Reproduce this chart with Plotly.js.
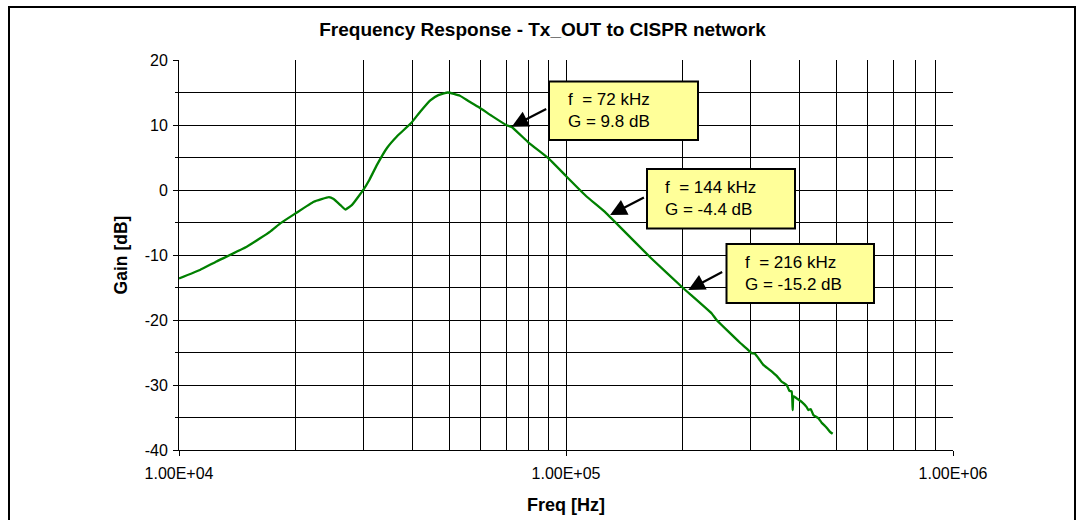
<!DOCTYPE html>
<html>
<head>
<meta charset="utf-8">
<script src="https://cdn.plot.ly/plotly-3.0.1.min.js"></script>
<style>html,body{margin:0;padding:0;background:#fff;}#chart{width:1082px;height:520px;}</style>
</head>
<body>
<div id="chart"></div>
<script>
// ---- data ----
const freqHz = [1.00e4, 1.133e4, 1.25e4, 1.5e4, 1.72e4, 1.83e4, 2.0e4, 2.23e4, 2.44e4, 2.51e4, 2.61e4, 2.69e4, 2.80e4,
  3.0e4, 3.1e4, 3.25e4, 3.45e4, 3.65e4, 3.98e4, 4.2e4, 4.46e4, 4.68e4, 4.95e4, 5.32e4, 5.59e4, 5.93e4, 6.43e4, 7.0e4, 7.24e4,
  8.0e4, 9.0e4, 1.0e5, 1.13e5, 1.256e5, 1.374e5, 1.66e5, 2.0e5, 2.38e5, 2.45e5, 2.816e5, 2.93e5, 3.018e5, 3.078e5,
  3.171e5, 3.235e5, 3.367e5, 3.503e5, 3.609e5, 3.718e5, 3.777e5, 3.830e5, 3.853e5, 3.868e5, 3.945e5, 4.064e5, 4.187e5,
  4.229e5, 4.288e5, 4.356e5, 4.487e5, 4.577e5, 4.669e5, 4.734e5, 4.810e5, 4.887e5];
const gainDb = [-13.6, -12.3, -11.0, -8.7, -6.4, -5.1, -3.6, -1.8, -1.1, -1.4, -2.3, -3.0, -2.3,
  0.1, 1.5, 3.9, 6.5, 8.2, 10.3, 12.05, 13.8, 14.6, 15.0, 14.5, 13.7, 12.8, 11.4, 10.0, 9.7,
  7.3, 4.9, 2.15, -1.0, -3.3, -5.6, -10.5, -15.0, -19.0, -20.0, -23.5, -24.4, -25.1, -25.2,
  -26.2, -26.9, -27.7, -28.6, -29.5, -30.0, -30.9, -31.0, -33.85, -31.7, -32.05, -32.6, -33.4,
  -33.85, -33.7, -34.6, -35.1, -35.8, -36.3, -36.7, -37.2, -37.5];

const xTickVals = [1e4, 1e5, 1e6];
const xTickText = ['1.00E+04', '1.00E+05', '1.00E+06'];
const xMinorVals = [2e4, 3e4, 4e4, 5e4, 6e4, 7e4, 8e4, 9e4, 2e5, 3e5, 4e5, 5e5, 6e5, 7e5, 8e5, 9e5];
const yTickVals = [-40, -30, -20, -10, 0, 10, 20];
const yTickText = ['-40', '-30', '-20', '-10', '0', '10', '20'];

// callouts: frequency label, gain label, and the curve point the arrow touches
const calloutF = ['72 kHz', '144 kHz', '216 kHz'];
const calloutG = ['9.8 dB', '-4.4 dB', '-15.2 dB'];
const calloutTipHz = [7.24e4, 1.30e5, 2.07e5];
const calloutTipDb = [9.74, -3.85, -15.38];

// ---- layout helpers (pixel -> paper) ----
const L = 179, R = 953, T = 60, B = 450;
const px = x => (x - L) / (R - L);
const py = y => (B - y) / (B - T);
const FONT = 'Liberation Sans, Arial, sans-serif';

// callout box geometry in pixels: [left, top, right, bottom, textLeft]
const boxes = [
  [549, 81.5, 698, 140, 565.7],
  [647, 169, 795, 228.5, 662.7],
  [726.5, 244, 874, 303, 742.7]
];
const arrowOff = [[36, -18.4], [35.3, -18.3], [35.4, -18.7]];

const shapes = [{
  type: 'rect', xref: 'paper', yref: 'paper',
  x0: px(9), x1: px(1075), y0: py(540), y1: py(7),
  line: {color: '#000', width: 2}, fillcolor: 'rgba(0,0,0,0)', layer: 'below'
}];
const annotations = [];
boxes.forEach((b, i) => {
  shapes.push({
    type: 'rect', xref: 'paper', yref: 'paper', layer: 'above',
    x0: px(b[0]), x1: px(b[2]), y0: py(b[3]), y1: py(b[1]),
    fillcolor: '#FFFF99', line: {color: '#000', width: 2}
  });
  annotations.push({
    xref: 'paper', yref: 'paper', x: px(b[4]), y: py((b[1] + b[3]) / 2),
    xanchor: 'left', yanchor: 'middle', align: 'left', showarrow: false,
    text: 'f\u00A0 = ' + calloutF[i] + '<br>G = ' + calloutG[i],
    font: {family: FONT, size: 17, color: '#000'}
  });
  annotations.push({
    xref: 'x', yref: 'y', x: Math.log10(calloutTipHz[i]), y: calloutTipDb[i],
    text: '', showarrow: true, arrowhead: 2, arrowsize: 1.5, arrowwidth: 2.2,
    arrowcolor: '#000', ax: arrowOff[i][0], ay: arrowOff[i][1], standoff: 0
  });
});

const trace = {
  x: freqHz, y: gainDb, type: 'scatter', mode: 'lines',
  line: {color: '#008000', width: 2.3, shape: 'spline', smoothing: 0.3}, hoverinfo: 'skip'
};

const layout = {
  width: 1082, height: 520,
  margin: {l: L, r: 1082 - R, t: T, b: 520 - B, pad: 0},
  paper_bgcolor: '#fff', plot_bgcolor: '#fff',
  showlegend: false,
  font: {family: FONT, color: '#000'},
  title: {
    text: '<b>Frequency Response - Tx_OUT to CISPR network</b>',
    font: {family: FONT, size: 19, color: '#000'},
    xref: 'container', x: 542.5 / 1082, xanchor: 'center',
    yref: 'container', y: 1 - 29 / 520, yanchor: 'middle'
  },
  xaxis: {
    type: 'log', range: [4, 6],
    tickmode: 'array', tickvals: xTickVals, ticktext: xTickText,
    ticks: 'outside', ticklen: 5, tickwidth: 1, tickcolor: '#000',
    tickfont: {family: FONT, size: 16, color: '#000'}, ticklabelstandoff: 4,
    showline: true, linecolor: '#000', linewidth: 1,
    showgrid: true, gridcolor: '#000', gridwidth: 1, zeroline: false,
    minor: {tickmode: 'array', tickvals: xMinorVals, ticks: '', showgrid: true, gridcolor: '#000', gridwidth: 1},
    title: {text: '<b>Freq [Hz]</b>', font: {family: FONT, size: 18, color: '#000'}, standoff: 17},
    automargin: false, fixedrange: true
  },
  yaxis: {
    range: [-40, 20], tickmode: 'array', tickvals: yTickVals, ticktext: yTickText,
    ticks: 'outside', ticklen: 5, tickwidth: 1, tickcolor: '#000',
    tickfont: {family: FONT, size: 16, color: '#000'}, ticklabelstandoff: 2,
    showline: true, linecolor: '#000', linewidth: 1,
    showgrid: true, gridcolor: '#000', gridwidth: 1, zeroline: false,
    minor: {dtick: 5, tick0: 0, ticks: 'outside', ticklen: 3, tickcolor: '#000', showgrid: true, gridcolor: '#000', gridwidth: 1},
    title: {text: '<b>Gain [dB]</b>', font: {family: FONT, size: 17.5, color: '#000'}, standoff: 12},
    automargin: false, fixedrange: true
  },
  shapes: shapes,
  annotations: annotations
};

Plotly.newPlot('chart', [trace], layout, {staticPlot: true, displayModeBar: false});
</script>
</body>
</html>
